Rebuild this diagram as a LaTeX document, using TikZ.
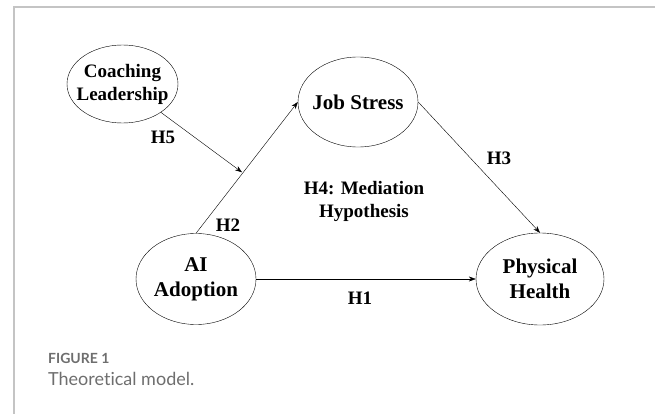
\documentclass[tikz,border=0pt]{standalone}
\usepackage{fontspec}
\setmainfont{Liberation Serif}
\newfontfamily\capfont[Ligatures=NoCommon]{Lato}
\usetikzlibrary{shapes.geometric,arrows.meta}
\definecolor{framegray}{HTML}{C4C4C4}
\definecolor{capgray}{HTML}{6E6E6E}
\begin{document}
\begin{tikzpicture}[x=1pt,y=-1pt,
  var/.style={draw,thin,ellipse,inner sep=-16pt,align=center,
    font=\bfseries\fontsize{21}{25}\selectfont},
  hyp/.style={align=center,font=\bfseries\fontsize{19}{23}\selectfont},
  arr/.style={thin,-{Stealth[length=7pt,width=5pt]}}]
  \useasboundingbox (0,0) rectangle (655,414);
  \draw[framegray,line width=1.2pt] (14,414) -- (14,7) -- (655,7);

  % constructs
  \node[var,minimum width=111pt,minimum height=78pt,
    font=\bfseries\fontsize{19}{23}\selectfont] (cl) at (122.5,84) {Coaching\\Leadership};
  \node[var,minimum width=120pt,minimum height=90pt] (js) at (358,102) {Job Stress};
  \node[var,minimum width=120pt,minimum height=91pt] (ai) at (196,279) {AI\\Adoption};
  \node[var,minimum width=128pt,minimum height=92pt] (ph) at (540,279) {Physical\\Health};

  % paths
  \draw[arr] (ai.north) -- coordinate[pos=0.46] (mod) (js.west);
  \draw[arr,shorten >=1pt] (cl) -- (mod);
  \draw[arr] (js.east) -- (ph.north);
  \draw[arr] (ai.east) -- (ph.west);

  \node[hyp] (h5) at (163,137) {H5};
  \node[hyp] (h2) at (228,225) {H2};
  \node[hyp] (h4) at (364,201) {H4: Mediation\\Hypothesis};
  \node[hyp] (h1) at (360,298) {H1};
  \node[hyp] (h3) at (499,158) {H3};

  % caption
  \node[anchor=base west,inner sep=0pt,text=capgray,
    font=\capfont\bfseries\fontsize{14}{16}\selectfont] (fig) at (48,363) {FIGURE 1};
  \node[anchor=base west,inner sep=0pt,text=capgray,
    font=\capfont\fontsize{18}{21}\selectfont] (cap) at (48,385) {Theoretical model.};
\end{tikzpicture}
\end{document}
